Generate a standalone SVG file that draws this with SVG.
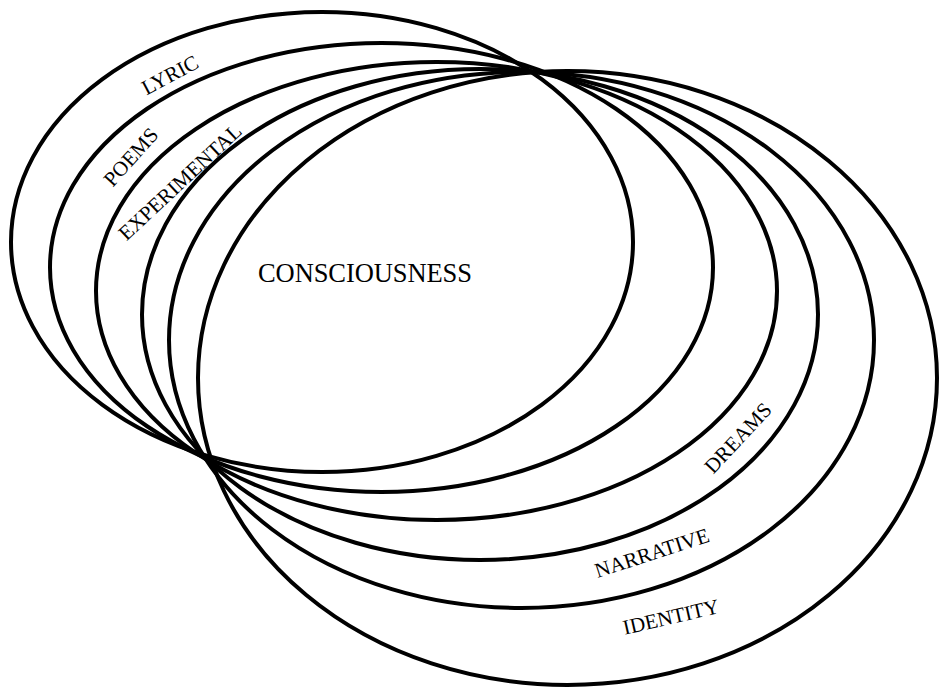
<svg xmlns="http://www.w3.org/2000/svg" width="939" height="688" viewBox="0 0 939 688">
<style>
.ring{fill:none;stroke:#000;stroke-width:4}
.lbl{font-family:"Liberation Serif","Times New Roman",serif;font-size:21px;fill:#000;text-anchor:middle;dominant-baseline:central}
.main{font-family:"Liberation Serif","Times New Roman",serif;font-size:26.5px;fill:#000}
</style>
<rect width="939" height="688" fill="#fff"/>
<g id="ellipse-1">
<ellipse class="ring" cx="322" cy="242" rx="311" ry="230"/>
<text class="lbl" x="170" y="75" transform="rotate(-28 170 75)">LYRIC</text>
</g>
<g id="ellipse-2">
<ellipse class="ring" cx="381.5" cy="267.5" rx="331.5" ry="224.5"/>
<text class="lbl" x="131" y="157" transform="rotate(-48 131 157)">POEMS</text>
</g>
<g id="ellipse-3">
<ellipse class="ring" cx="436.5" cy="291" rx="340.5" ry="229"/>
<text class="lbl" x="180" y="182" transform="rotate(-43 180 182)">EXPERIMENTAL</text>
</g>
<g id="ellipse-4">
<ellipse class="ring" cx="480" cy="314.5" rx="338" ry="245.5"/>
<text class="lbl" x="738" y="438" transform="rotate(-47 738 438)">DREAMS</text>
</g>
<g id="ellipse-5">
<ellipse class="ring" cx="521.5" cy="340" rx="352.5" ry="268"/>
<text class="lbl" x="652" y="553" transform="rotate(-18 652 553)">NARRATIVE</text>
</g>
<g id="ellipse-6">
<ellipse class="ring" cx="567.5" cy="378" rx="369.5" ry="307"/>
<text class="lbl" x="671" y="617" transform="rotate(-13 671 617)">IDENTITY</text>
</g>
<g id="consciousness">
<text class="main" x="258" y="282" textLength="214">CONSCIOUSNESS</text>
</g>
</svg>
